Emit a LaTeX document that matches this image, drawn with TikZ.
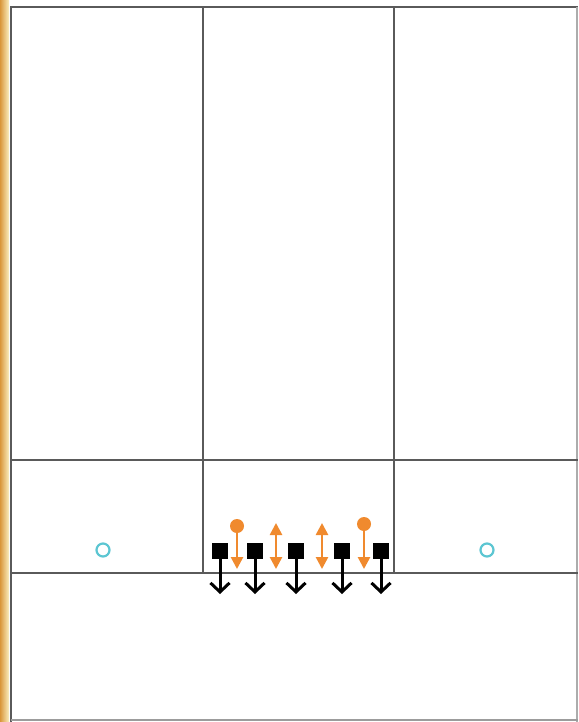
\documentclass[tikz,border=0pt]{standalone}
\usetikzlibrary{arrows.meta}
\definecolor{gridline}{HTML}{5A5A5A}
\definecolor{orng}{HTML}{F08A2E}
\definecolor{cyn}{HTML}{5CC6D2}
\definecolor{stripA}{HTML}{D9963A}
\definecolor{stripB}{HTML}{FBEFC0}
\tikzset{
  wall/.style={draw=gridline, line width=1.4pt},
  player/.style={fill=black, minimum size=16pt, inner sep=0pt, outer sep=0pt},
  ball/.style={circle, fill=orng, minimum size=14pt, inner sep=0pt},
  cone/.style={circle, draw=cyn, line width=2.2pt, minimum size=13pt, inner sep=0pt},
  runarrow/.style={black, line width=3pt, -{Straight Barb[length=9pt,width=19pt,line width=3pt]}},
  orarrow/.style={orng, line width=2.6pt, -{Triangle[length=12pt,width=12pt]}},
  orboth/.style={orng, line width=2.6pt, {Triangle[length=12pt,width=12pt]}-{Triangle[length=12pt,width=12pt]}}
}
\begin{document}
\begin{tikzpicture}[x=1pt,y=-1pt]
\useasboundingbox (0,0) rectangle (578,722);
\fill[white] (0,0) rectangle (578,722);
% left strip
\shade[left color=stripA, right color=stripB] (0,0) rectangle (9,722);
% frame
\draw[wall] (11,722) -- (11,7) -- (578,7);
\draw[wall, draw=gridline!50] (577,7) -- (577,722);
\draw[wall, draw=gridline!60] (11,720) -- (578,720);
% verticals
\draw[wall] (203,7) -- (203,573);
\draw[wall] (394,7) -- (394,573);
% horizontals
\draw[wall] (11,460) -- (578,460);
\draw[wall] (11,573) -- (578,573);
% cones
\node[cone] (c1) at (103,550) {};
\node[cone] (c2) at (487,550) {};
% players
\node[player] (p1) at (220,551) {};
\node[player] (p2) at (255,551) {};
\node[player] (p3) at (296,551) {};
\node[player] (p4) at (342,551) {};
\node[player] (p5) at (381,551) {};
\coordinate (e1) at (220,594);
\coordinate (e2) at (255,594);
\coordinate (e3) at (296,594);
\coordinate (e4) at (342,594);
\coordinate (e5) at (381,594);
\foreach \i in {1,...,5} \draw[runarrow] (p\i.south) -- (e\i);
% balls
\node[ball] (b1) at (237,526) {};
\node[ball] (b2) at (364,524) {};
\coordinate (f1) at (237,569);
\coordinate (f2) at (364,569);
\draw[orarrow] (b1.south) -- (f1);
\draw[orarrow] (b2.south) -- (f2);
% double arrows
\coordinate (d1t) at (276,523);
\coordinate (d1b) at (276,569);
\coordinate (d2t) at (322,523);
\coordinate (d2b) at (322,569);
\draw[orboth] (d1t) -- (d1b);
\draw[orboth] (d2t) -- (d2b);
\end{tikzpicture}
\end{document}
